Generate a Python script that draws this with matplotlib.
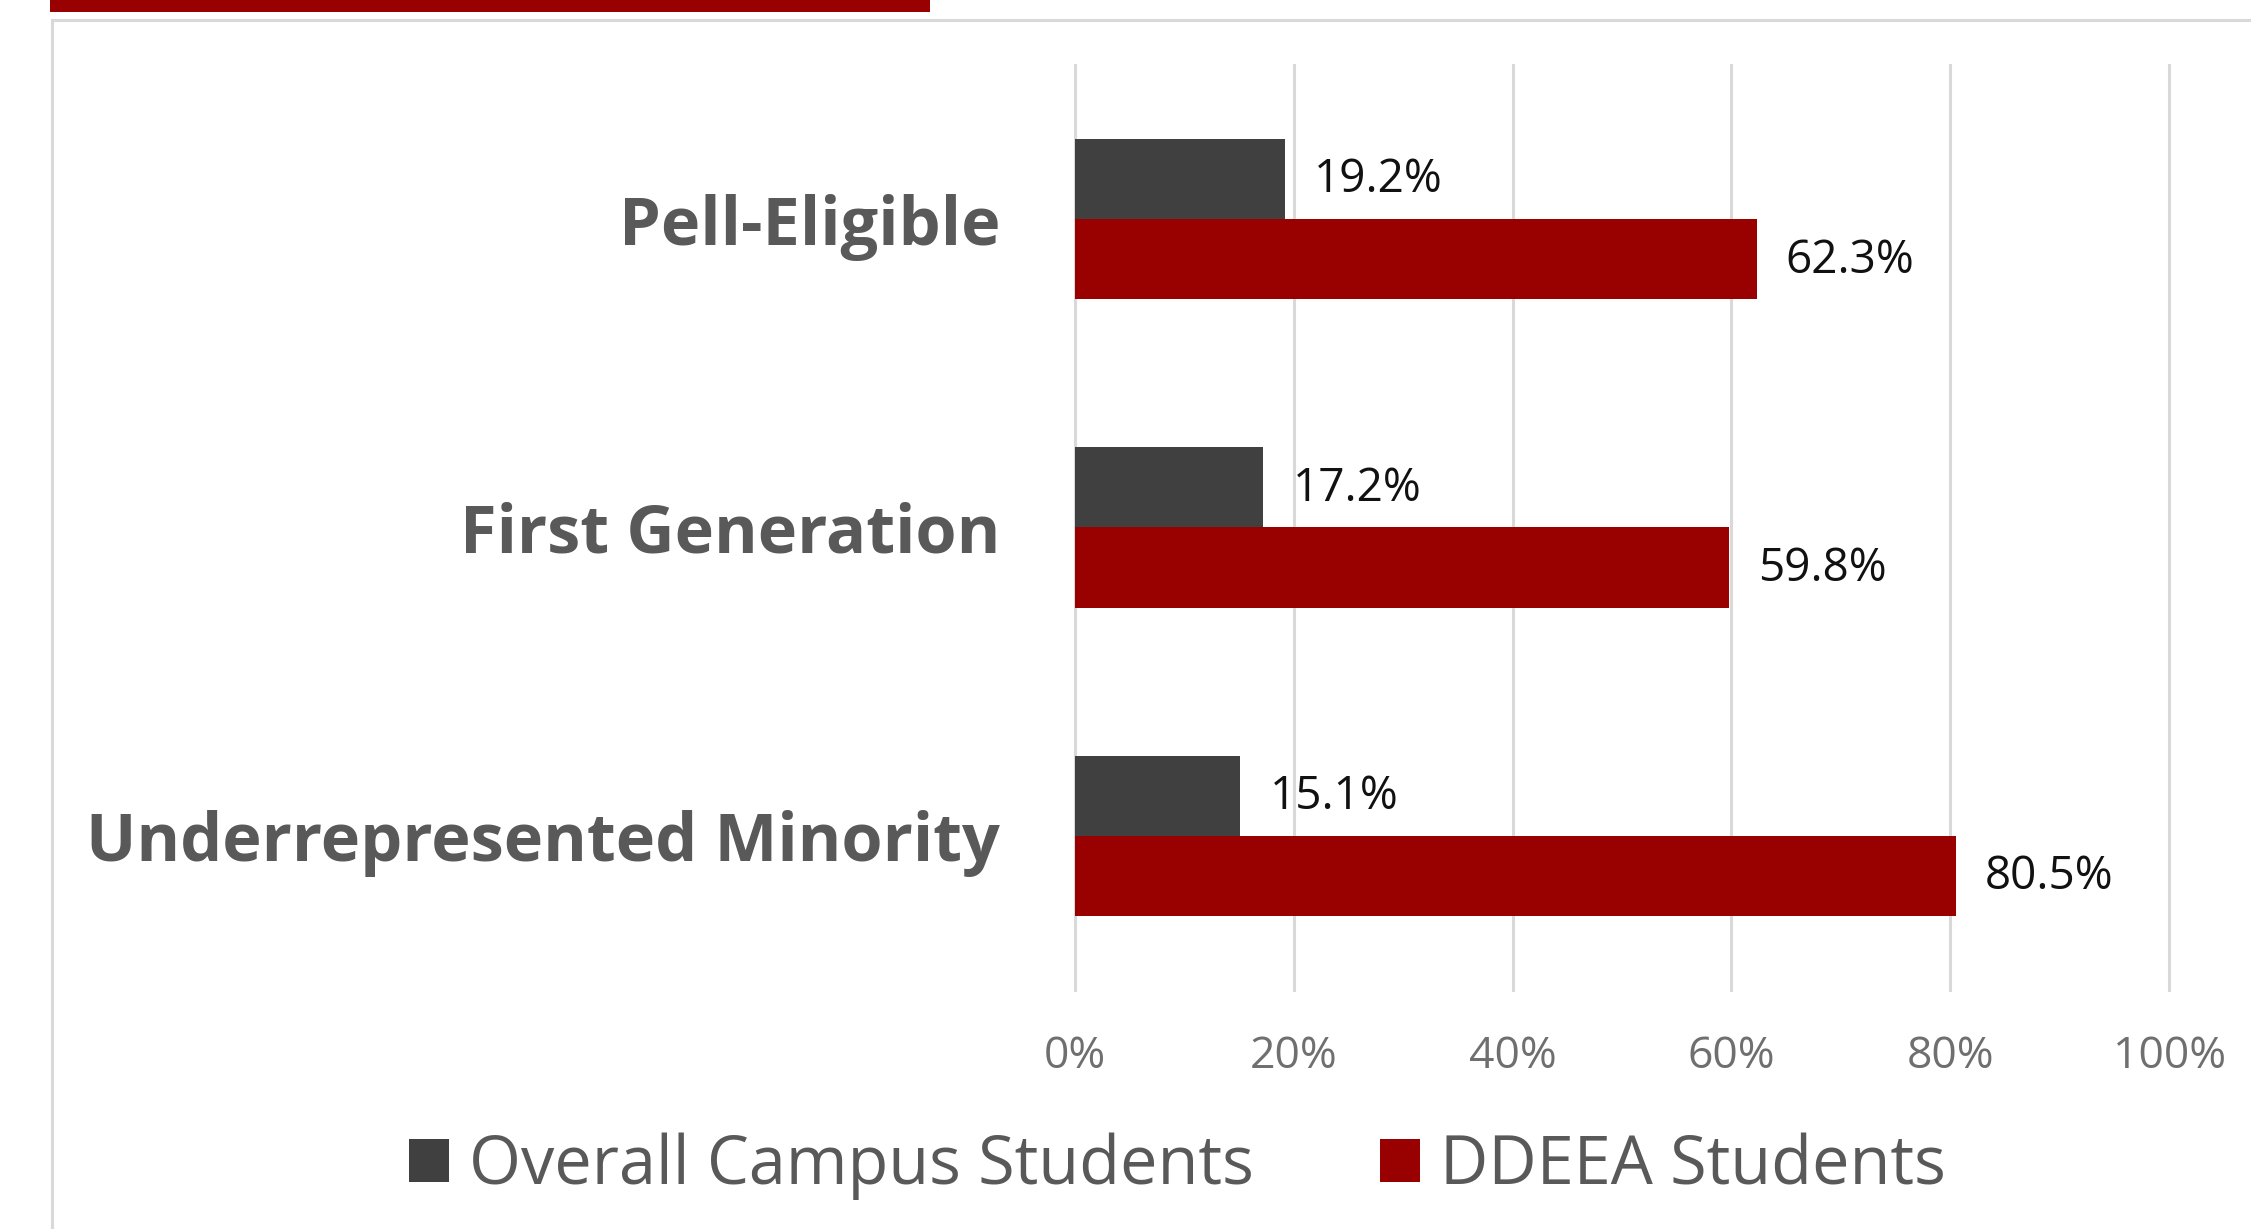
import matplotlib.pyplot as plt
from matplotlib.lines import Line2D
from matplotlib.patches import Rectangle
import numpy as np

categories = ["Pell-Eligible", "First Generation", "Underrepresented Minority"]
overall = [19.2, 17.2, 15.1]
ddeea = [62.3, 59.8, 80.5]
series_names = ["Overall Campus Students", "DDEEA Students"]
ticks = [0, 20, 40, 60, 80, 100]
tick_labels = ["0%", "20%", "40%", "60%", "80%", "100%"]

dark = "#404040"
red = "#990000"
grid_c = "#D9D9D9"
label_c = "#595959"

plt.rcParams['font.family'] = ['Open Sans', 'DejaVu Sans']

fig = plt.figure(figsize=(22.51, 12.29), dpi=100)
ax = fig.add_axes([0.4776, 0.1945, 0.9636 - 0.4776, 0.9471 - 0.1945])

y = np.arange(len(categories))
h = 0.26
b1 = ax.barh(y - h / 2, overall, height=h, color=dark, label=series_names[0], zorder=3)
b2 = ax.barh(y + h / 2, ddeea, height=h, color=red, label=series_names[1], zorder=3)

for bars, vals in [(b1, overall), (b2, ddeea)]:
    for rect, v in zip(bars, vals):
        ax.annotate(f"{v:.1f}%", (v, rect.get_y() + rect.get_height() / 2),
                    xytext=(21, -1), textcoords="offset points", va="center", ha="left",
                    fontsize=33, color="#111111")

ax.set_xlim(0, 100)
ax.set_ylim(2.5, -0.5)
ax.set_xticks(ticks)
ax.set_xticklabels(tick_labels, fontsize=32, color="#6f6f6f")
ax.set_yticks(y)
ax.set_yticklabels(categories, fontsize=48, fontweight="bold", color=label_c)
ax.tick_params(axis="x", length=0, pad=32)
ax.tick_params(axis="y", length=0, pad=54)
ax.grid(axis="x", color=grid_c, linewidth=2.2, zorder=0)
for gl in ax.get_xgridlines():
    gl.set_clip_on(False)
for s in ax.spines.values():
    s.set_visible(False)

fig.legend(handles=[b1, b2], labels=series_names, loc="center", bbox_to_anchor=(0.523, 0.051),
           ncol=2, frameon=False, fontsize=48, labelcolor=label_c,
           handlelength=0.6, handleheight=0.6, handletextpad=0.3, columnspacing=1.9)

# frame border and title underline
fig.add_artist(Line2D([0.0231, 1.0], [0.9837, 0.9837], color=grid_c, linewidth=2.2))
fig.add_artist(Line2D([0.0231, 0.0231], [0.0, 0.9837], color=grid_c, linewidth=2.2))
fig.add_artist(Rectangle((0.0222, 1 - 12 / 1229), 0.413 - 0.0222, 12 / 1229,
                         transform=fig.transFigure, color=red, linewidth=0))

fig.savefig("out.png", dpi=100)
